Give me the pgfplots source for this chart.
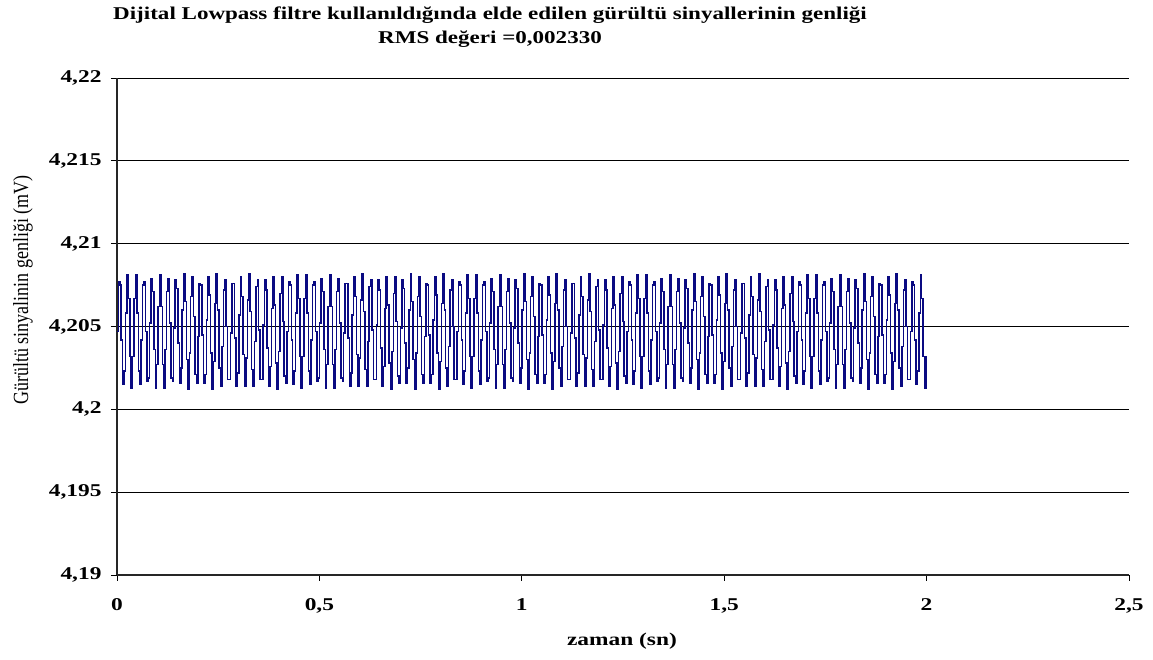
\documentclass[border=0pt]{standalone}
\usepackage{graphicx}
\usepackage{pgfplots}
\pgfplotsset{compat=1.18}
\usepackage{fontspec}
\setmainfont{Liberation Serif}
\definecolor{navy}{RGB}{10,10,130}
\newcommand{\wide}[2][1.28]{\scalebox{#1}[1]{#2}}
\begin{document}
\begin{tikzpicture}[x=1pt,y=1pt]
\useasboundingbox (-117,-84) rectangle (1036,575);
\begin{axis}[
 at={(0,0)}, anchor=south west, scale only axis,
 width=1012pt, height=497pt,
 xmin=0, xmax=2.5, ymin=4.19, ymax=4.22,
 axis x line*=bottom, axis y line*=left,
 xtick={0,0.5,1,1.5,2,2.5}, xticklabels={\wide[1.3]{0},\wide[1.3]{0,5},\wide[1.3]{1},\wide[1.3]{1,5},\wide[1.3]{2},\wide[1.3]{2,5}},
 ytick={4.19,4.195,4.2,4.205,4.21,4.215,4.22},
 yticklabels={\wide[1.3]{4,19},\wide[1.3]{4,195},\wide[1.3]{4,2},\wide[1.3]{4,205},\wide[1.3]{4,21},\wide[1.3]{4,215},\wide[1.3]{4,22}},
 tick align=outside, major tick length=6pt,
 ymajorgrids, major grid style={black, line width=0.9pt},
 axis line style={black!85, line width=1.1pt},
 tick style={black, line width=0.9pt},
 ticklabel style={font=\fontsize{18}{21}\selectfont\bfseries},
 yticklabel style={xshift=-6pt}, xticklabel style={yshift=-14pt},
 clip=false,
]
\addplot[navy, line width=1.5pt, const plot] table[row sep=\\, x expr=\coordindex*0.0035, y index=0] {
y\\
4.2047\\4.2077\\4.2075\\4.2042\\4.2015\\4.2023\\4.2058\\4.2081\\4.2067\\4.2032\\4.2013\\4.2032\\4.2067\\4.2081\\4.2058\\4.2023\\4.2015\\4.2042\\4.2075\\4.2077\\4.2047\\4.2017\\4.2019\\4.2052\\4.2079\\4.2071\\4.2036\\4.2013\\4.2027\\4.2062\\4.2081\\4.2062\\4.2027\\4.2013\\4.2036\\4.2071\\4.2079\\4.2052\\4.2019\\4.2017\\
4.2049\\4.2078\\4.2073\\4.2040\\4.2016\\4.2025\\4.2060\\4.2082\\4.2065\\4.2030\\4.2012\\4.2034\\4.2068\\4.2080\\4.2056\\4.2021\\4.2016\\4.2044\\4.2076\\4.2075\\4.2045\\4.2016\\4.2021\\4.2054\\4.2080\\4.2069\\4.2034\\4.2012\\4.2029\\4.2064\\4.2082\\4.2060\\4.2025\\4.2014\\4.2038\\4.2072\\4.2078\\4.2050\\4.2018\\4.2018\\
4.2046\\4.2076\\4.2076\\4.2043\\4.2014\\4.2022\\4.2057\\4.2080\\4.2068\\4.2033\\4.2014\\4.2031\\4.2066\\4.2082\\4.2059\\4.2024\\4.2014\\4.2041\\4.2074\\4.2078\\4.2048\\4.2018\\4.2018\\4.2051\\4.2078\\4.2072\\4.2037\\4.2014\\4.2026\\4.2061\\4.2080\\4.2063\\4.2028\\4.2012\\4.2035\\4.2070\\4.2080\\4.2053\\4.2020\\4.2016\\
4.2047\\4.2077\\4.2075\\4.2042\\4.2015\\4.2023\\4.2058\\4.2081\\4.2067\\4.2032\\4.2013\\4.2032\\4.2067\\4.2081\\4.2058\\4.2023\\4.2015\\4.2042\\4.2075\\4.2077\\4.2047\\4.2017\\4.2019\\4.2052\\4.2079\\4.2071\\4.2036\\4.2013\\4.2027\\4.2062\\4.2081\\4.2062\\4.2027\\4.2013\\4.2036\\4.2071\\4.2079\\4.2052\\4.2019\\4.2017\\
4.2046\\4.2076\\4.2076\\4.2043\\4.2014\\4.2022\\4.2057\\4.2080\\4.2068\\4.2033\\4.2014\\4.2031\\4.2066\\4.2082\\4.2059\\4.2024\\4.2014\\4.2041\\4.2074\\4.2078\\4.2048\\4.2018\\4.2018\\4.2051\\4.2078\\4.2072\\4.2037\\4.2014\\4.2026\\4.2061\\4.2080\\4.2063\\4.2028\\4.2012\\4.2035\\4.2070\\4.2080\\4.2053\\4.2020\\4.2016\\
4.2049\\4.2078\\4.2073\\4.2040\\4.2016\\4.2025\\4.2060\\4.2082\\4.2065\\4.2030\\4.2012\\4.2034\\4.2068\\4.2080\\4.2056\\4.2021\\4.2016\\4.2044\\4.2076\\4.2075\\4.2045\\4.2016\\4.2021\\4.2054\\4.2080\\4.2069\\4.2034\\4.2012\\4.2029\\4.2064\\4.2082\\4.2060\\4.2025\\4.2014\\4.2038\\4.2072\\4.2078\\4.2050\\4.2018\\4.2018\\
4.2047\\4.2077\\4.2075\\4.2042\\4.2015\\4.2023\\4.2058\\4.2081\\4.2067\\4.2032\\4.2013\\4.2032\\4.2067\\4.2081\\4.2058\\4.2023\\4.2015\\4.2042\\4.2075\\4.2077\\4.2047\\4.2017\\4.2019\\4.2052\\4.2079\\4.2071\\4.2036\\4.2013\\4.2027\\4.2062\\4.2081\\4.2062\\4.2027\\4.2013\\4.2036\\4.2071\\4.2079\\4.2052\\4.2019\\4.2017\\
4.2049\\4.2078\\4.2073\\4.2040\\4.2016\\4.2025\\4.2060\\4.2082\\4.2065\\4.2030\\4.2012\\4.2034\\4.2068\\4.2080\\4.2056\\4.2021\\4.2016\\4.2044\\4.2076\\4.2075\\4.2045\\4.2016\\4.2021\\4.2054\\4.2080\\4.2069\\4.2034\\4.2012\\4.2029\\4.2064\\4.2082\\4.2060\\4.2025\\4.2014\\4.2038\\4.2072\\4.2078\\4.2050\\4.2018\\4.2018\\
4.2046\\4.2076\\4.2076\\4.2043\\4.2014\\4.2022\\4.2057\\4.2080\\4.2068\\4.2033\\4.2014\\4.2031\\4.2066\\4.2082\\4.2059\\4.2024\\4.2014\\4.2041\\4.2074\\4.2078\\4.2048\\4.2018\\4.2018\\4.2051\\4.2078\\4.2072\\4.2037\\4.2014\\4.2026\\4.2061\\4.2080\\4.2063\\4.2028\\4.2012\\4.2035\\4.2070\\4.2080\\4.2053\\4.2020\\4.2016\\
4.2047\\4.2077\\4.2075\\4.2042\\4.2015\\4.2023\\4.2058\\4.2081\\4.2067\\4.2032\\4.2013\\4.2032\\4.2067\\4.2081\\4.2058\\4.2023\\4.2015\\4.2042\\4.2075\\4.2077\\4.2047\\4.2017\\4.2019\\4.2052\\4.2079\\4.2071\\4.2036\\4.2013\\4.2027\\4.2062\\4.2081\\4.2062\\4.2027\\4.2013\\4.2036\\4.2071\\4.2079\\4.2052\\4.2019\\4.2017\\
4.2049\\4.2078\\4.2073\\4.2040\\4.2016\\4.2025\\4.2060\\4.2082\\4.2065\\4.2030\\4.2012\\4.2034\\4.2068\\4.2080\\4.2056\\4.2021\\4.2016\\4.2044\\4.2076\\4.2075\\4.2045\\4.2016\\4.2021\\4.2054\\4.2080\\4.2069\\4.2034\\4.2012\\4.2029\\4.2064\\4.2082\\4.2060\\4.2025\\4.2014\\4.2038\\4.2072\\4.2078\\4.2050\\4.2018\\4.2018\\
4.2046\\4.2076\\4.2076\\4.2043\\4.2014\\4.2022\\4.2057\\4.2080\\4.2068\\4.2033\\4.2014\\4.2031\\4.2066\\4.2082\\4.2059\\4.2024\\4.2014\\4.2041\\4.2074\\4.2078\\4.2048\\4.2018\\4.2018\\4.2051\\4.2078\\4.2072\\4.2037\\4.2014\\4.2026\\4.2061\\4.2080\\4.2063\\4.2028\\4.2012\\4.2035\\4.2070\\4.2080\\4.2053\\4.2020\\4.2016\\
4.2047\\4.2077\\4.2075\\4.2042\\4.2015\\4.2023\\4.2058\\4.2081\\4.2067\\4.2032\\4.2013\\4.2032\\4.2067\\4.2081\\4.2058\\4.2023\\4.2015\\4.2042\\4.2075\\4.2077\\4.2047\\4.2017\\4.2019\\4.2052\\4.2079\\4.2071\\4.2036\\4.2013\\4.2027\\4.2062\\4.2081\\4.2062\\4.2027\\4.2013\\4.2036\\4.2071\\4.2079\\4.2052\\4.2019\\4.2017\\
4.2049\\4.2078\\4.2073\\4.2040\\4.2016\\4.2025\\4.2060\\4.2082\\4.2065\\4.2030\\4.2012\\4.2034\\4.2068\\4.2080\\4.2056\\4.2021\\4.2016\\4.2044\\4.2076\\4.2075\\4.2045\\4.2016\\4.2021\\4.2054\\4.2080\\4.2069\\4.2034\\4.2012\\4.2029\\4.2064\\4.2082\\4.2060\\4.2025\\4.2014\\4.2038\\4.2072\\4.2078\\4.2050\\4.2018\\4.2018\\
4.2047\\4.2077\\4.2075\\4.2042\\4.2015\\4.2023\\4.2058\\4.2081\\4.2067\\4.2032\\4.2013\\4.2032\\
};
\end{axis}
\node[font=\fontsize{18}{21}\selectfont\bfseries] at (373,560) {\wide{Dijital Lowpass filtre kullanıldığında elde edilen gürültü sinyallerinin genliği}};
\node[font=\fontsize{18}{21}\selectfont\bfseries] at (373,536) {\wide{RMS değeri =0,002330}};
\node[font=\fontsize{18}{21}\selectfont\bfseries] at (505,-66) {\wide[1.3]{zaman (sn)}};
\node[font=\fontsize{18}{21}\selectfont, rotate=90] at (-94,285) {\scalebox{1}[1.2]{Gürültü sinyalinin genliği (mV)}};
\end{tikzpicture}
\end{document}
